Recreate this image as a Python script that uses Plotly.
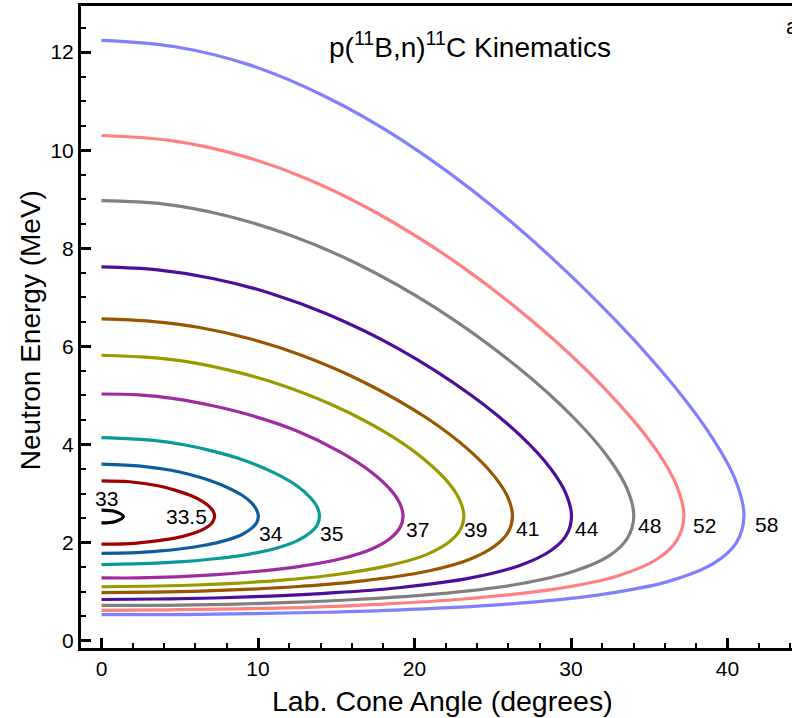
import plotly.graph_objects as go

# Beam energies (MeV) labelling each kinematic curve
labels = ["33", "33.5", "34", "35", "37", "39", "41", "44", "48", "52", "58"]
colors = ["#000000", "#a00000", "#0d5c9e", "#0a9a9a", "#a02aa0", "#999900",
          "#995500", "#4b0f9b", "#808080", "#ff8080", "#8080ff"]

# Lab cone angle (deg) / neutron energy (MeV)
ang_33 = [0, 0.9, 1.4, 0.9, 0]
en_33 = [2.66, 2.63, 2.53, 2.43, 2.40]

ang_33p5 = [0, 1.80, 3.61, 4.69, 5.78, 6.50, 6.94, 7.15, 7.23, 7.15, 6.94, 6.50, 5.78, 4.69, 3.61, 1.80, 0]
en_33p5 = [3.26, 3.24, 3.16, 3.07, 2.95, 2.83, 2.72, 2.63, 2.54, 2.45, 2.36, 2.27, 2.18, 2.09, 2.04, 1.98, 1.97]

ang_34 = [0, 2.49, 3.74, 4.99, 6.49, 8.00, 9.01, 9.62, 9.92, 10.02, 9.92, 9.62, 9.01, 8.00, 6.49, 4.99, 3.74, 2.49, 0]
en_34 = [3.60, 3.56, 3.51, 3.44, 3.31, 3.13, 2.96, 2.80, 2.66, 2.54, 2.41, 2.30, 2.17, 2.05, 1.94, 1.87, 1.83, 1.80, 1.78]

ang_35 = [0, 3.45, 5.18, 6.92, 9.01, 11.11, 12.52, 13.37, 13.79, 13.93, 13.79, 13.37, 12.52, 11.11, 9.01, 6.92, 5.18, 3.45, 0]
en_35 = [4.14, 4.08, 4.00, 3.88, 3.69, 3.41, 3.15, 2.91, 2.72, 2.54, 2.36, 2.21, 2.04, 1.88, 1.74, 1.66, 1.61, 1.58, 1.55]

ang_37 = [0, 2.36, 4.73, 7.11, 9.49, 12.38, 15.30, 17.27, 18.46, 19.06, 19.27, 19.06, 18.46, 17.27, 15.30, 12.38, 9.49, 7.11, 4.73, 2.36, 0]
en_37 = [5.03, 5.01, 4.93, 4.79, 4.60, 4.29, 3.84, 3.43, 3.08, 2.80, 2.54, 2.30, 2.09, 1.87, 1.67, 1.50, 1.40, 1.34, 1.30, 1.28, 1.28]

ang_39 = [0, 2.82, 5.64, 8.48, 11.34, 14.80, 18.33, 20.72, 22.17, 22.90, 23.15, 22.90, 22.17, 20.72, 18.33, 14.80, 11.34, 8.48, 5.64, 2.82, 0]
en_39 = [5.82, 5.78, 5.68, 5.49, 5.23, 4.80, 4.21, 3.67, 3.22, 2.86, 2.54, 2.25, 2.00, 1.75, 1.53, 1.34, 1.23, 1.17, 1.13, 1.11, 1.10]

ang_41 = [0, 3.17, 6.35, 9.55, 12.78, 16.71, 20.73, 23.46, 25.13, 25.98, 26.26, 25.98, 25.13, 23.46, 20.73, 16.71, 12.78, 9.55, 6.35, 3.17, 0]
en_41 = [6.56, 6.51, 6.38, 6.15, 5.82, 5.28, 4.55, 3.89, 3.34, 2.91, 2.54, 2.21, 1.93, 1.65, 1.41, 1.22, 1.11, 1.05, 1.01, 0.99, 0.98]

ang_44 = [0, 3.59, 7.19, 10.82, 14.49, 18.99, 23.60, 26.77, 28.72, 29.70, 30.03, 29.70, 28.72, 26.77, 23.60, 18.99, 14.49, 10.82, 7.19, 3.59, 0]
en_44 = [7.62, 7.56, 7.38, 7.08, 6.65, 5.95, 5.01, 4.18, 3.50, 2.98, 2.54, 2.15, 1.84, 1.54, 1.28, 1.08, 0.97, 0.91, 0.87, 0.85, 0.84]

ang_48 = [0, 4.01, 8.04, 12.11, 16.24, 21.32, 26.58, 30.22, 32.48, 33.62, 34.01, 33.62, 32.48, 30.22, 26.58, 21.32, 16.24, 12.11, 8.04, 4.01, 0]
en_48 = [8.97, 8.90, 8.66, 8.26, 7.70, 6.79, 5.58, 4.53, 3.69, 3.07, 2.54, 2.10, 1.74, 1.42, 1.15, 0.95, 0.84, 0.78, 0.74, 0.72, 0.72]

ang_52 = [0, 4.34, 8.70, 13.11, 17.60, 23.15, 28.93, 32.97, 35.49, 36.77, 37.21, 36.77, 35.49, 32.97, 28.93, 23.15, 17.60, 13.11, 8.70, 4.34, 0]
en_52 = [10.30, 10.20, 9.91, 9.42, 8.72, 7.60, 6.13, 4.86, 3.87, 3.14, 2.54, 2.05, 1.66, 1.32, 1.05, 0.85, 0.74, 0.68, 0.65, 0.63, 0.62]

ang_58 = [0, 4.71, 9.45, 14.26, 19.17, 25.27, 31.69, 36.23, 39.08, 40.55, 41.05, 40.55, 39.08, 36.23, 31.69, 25.27, 19.17, 14.26, 9.45, 4.71, 0]
en_58 = [12.24, 12.11, 11.74, 11.10, 10.21, 8.78, 6.91, 5.33, 4.11, 3.24, 2.54, 1.99, 1.57, 1.21, 0.93, 0.73, 0.63, 0.58, 0.55, 0.53, 0.53]

curve_angles = [ang_33, ang_33p5, ang_34, ang_35, ang_37, ang_39, ang_41, ang_44, ang_48, ang_52, ang_58]
curve_energies = [en_33, en_33p5, en_34, en_35, en_37, en_39, en_41, en_44, en_48, en_52, en_58]

# Label positions (deg, MeV)
label_x = [0.35, 5.4, 10.83, 14.7, 20.2, 23.9, 27.2, 31.0, 35.0, 38.5, 42.5]
label_y = [2.90, 2.53, 2.19, 2.19, 2.26, 2.27, 2.29, 2.29, 2.34, 2.34, 2.37]

FONT = "Liberation Sans, Arial, Helvetica, sans-serif"

fig = go.Figure()
for a, e, c in zip(curve_angles, curve_energies, colors):
    fig.add_trace(go.Scatter(x=a, y=e, mode="lines",
                             line=dict(color=c, width=3.2, shape="spline", smoothing=1.0),
                             hoverinfo="skip", showlegend=False))

for t, lx, ly in zip(labels, label_x, label_y):
    fig.add_annotation(x=lx, y=ly, text=t, showarrow=False, xanchor="center", yanchor="middle",
                       font=dict(size=21, color="black", family=FONT))

fig.add_annotation(x=23.55, y=12.15, text="p(<sup>11</sup>B,n)<sup>11</sup>C Kinematics",
                   showarrow=False, xanchor="center", yanchor="middle",
                   font=dict(size=28, color="black", family=FONT))
fig.add_annotation(x=21.8, xref="x", y=-0.0826, yref="paper", text="Lab. Cone Angle (degrees)",
                   showarrow=False, xanchor="center", yanchor="middle",
                   font=dict(size=28.5, color="black", family=FONT))
fig.add_annotation(x=-0.0717, xref="paper", y=0.495, yref="paper", text="Neutron Energy (MeV)",
                   textangle=-90, showarrow=False, xanchor="center", yanchor="middle",
                   font=dict(size=28, color="black", family=FONT))
fig.add_annotation(x=(784 - 81) / 711, xref="paper", y=(648 - 27) / 642, yref="paper", text="a)",
                   showarrow=False, xanchor="left", yanchor="middle",
                   font=dict(size=22, color="black", family=FONT))

fig.update_layout(
    width=792, height=718,
    margin=dict(l=81, r=0, t=6, b=70),
    paper_bgcolor="white", plot_bgcolor="white",
    font=dict(family=FONT, size=21, color="black"),
    xaxis=dict(range=[-1.31, 44.12], tickmode="array", tickvals=[0, 10, 20, 30, 40],
               ticks="inside", ticklen=10, tickwidth=3, tickcolor="black",
               showline=True, linewidth=3, linecolor="black", mirror=True,
               showgrid=False, zeroline=False,
               tickfont=dict(size=21, family=FONT, color="black"),
               minor=dict(dtick=2, tick0=0, ticks="inside", ticklen=5, tickwidth=1.5,
                          tickcolor="black", showgrid=False)),
    yaxis=dict(range=[-0.149, 12.94], tickmode="array", tickvals=[0, 2, 4, 6, 8, 10, 12],
               ticks="inside", ticklen=10, tickwidth=3, tickcolor="black",
               showline=True, linewidth=3, linecolor="black", mirror=False,
               showgrid=False, zeroline=False,
               tickfont=dict(size=21, family=FONT, color="black"),
               minor=dict(dtick=0.5, tick0=0, ticks="inside", ticklen=5, tickwidth=1.5,
                          tickcolor="black", showgrid=False)),
)

fig.write_html("out.html")
